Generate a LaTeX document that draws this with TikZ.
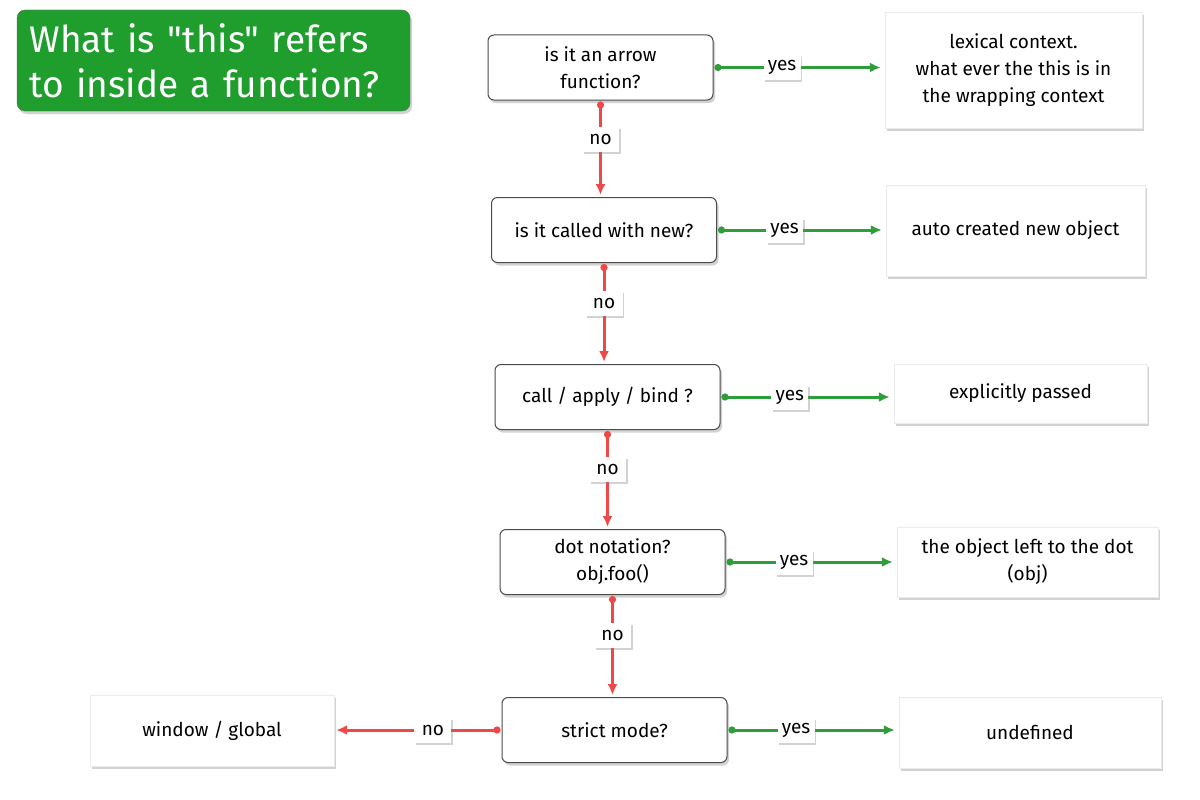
\documentclass[tikz,border=0pt]{standalone}
\usepackage{fontspec}
\setmainfont{Fira Sans}[Ligatures=TeXOff]
\usetikzlibrary{shadows,arrows.meta}
\definecolor{titlegreen}{HTML}{1F9E2E}
\definecolor{yesgreen}{HTML}{2E9E3A}
\definecolor{nored}{HTML}{F04848}
\tikzset{
  qbox/.style={draw=black!70, line width=1pt, rounded corners=6pt, fill=white, align=center,
    minimum width=225pt, minimum height=65pt, font=\fontsize{19}{27}\selectfont,
    drop shadow={shadow xshift=2pt, shadow yshift=-3pt, opacity=0.35}},
  abox/.style={draw=black!8, fill=white, align=center,
    font=\fontsize{19}{27}\selectfont,
    drop shadow={shadow xshift=2pt, shadow yshift=-3pt, opacity=0.35}},
  lab/.style={fill=white, minimum width=37pt, minimum height=25pt, inner sep=2pt,
    font=\fontsize{19}{20}\selectfont,
    drop shadow={shadow xshift=1.5pt, shadow yshift=-2pt, opacity=0.35}},
  yesline/.style={draw=yesgreen, line width=3pt, {Circle[length=7pt]}-{Latex[length=11pt,width=10pt]}, shorten <=1pt, shorten >=4pt},
  noline/.style={draw=nored, line width=3pt, {Circle[length=7pt]}-{Latex[length=11pt,width=10pt]}, shorten <=1pt, shorten >=2pt},
}
\begin{document}
\begin{tikzpicture}[x=1pt,y=-1pt]
\useasboundingbox (0,0) rectangle (1200,800);
\fill[white] (0,0) rectangle (1200,800);
% title
\node[draw=black!60, fill=titlegreen, rounded corners=8pt, minimum width=393pt, minimum height=101pt,
  text width=368pt, align=left, text=white, font=\fontsize{37}{45}\selectfont,
  drop shadow={shadow xshift=2pt, shadow yshift=-3pt, opacity=0.35}]
  (title) at (213.5,60.5) {What is "this" refers\\to inside a function?};
% questions
\node[qbox] (q1) at (600.5,67.5) {is it an arrow\\function?};
\node[qbox] (q2) at (604,230) {is it called with new?};
\node[qbox] (q3) at (607.5,397) {call / apply / bind ?};
\node[qbox] (q4) at (612.5,562) {dot notation?\\obj.foo()};
\node[qbox] (q5) at (614.5,730) {strict mode?};
% answers
\node[abox, minimum width=257pt, minimum height=116pt] (a1) at (1013.5,70) {lexical context.\\what ever the this is in\\the wrapping context};
\node[abox, minimum width=259pt, minimum height=91pt] (a2) at (1015.5,230.5) {auto created new object};
\node[abox, minimum width=253pt, minimum height=59pt] (a3) at (1020.5,393.5) {explicitly passed};
\node[abox, minimum width=261pt, minimum height=70pt] (a4) at (1027.5,562) {the object left to the dot\\(obj)};
\node[abox, minimum width=262pt, minimum height=71pt] (a5) at (1030,732.5) {undefined};
\node[abox, minimum width=244pt, minimum height=71pt] (w) at (212,730.5) {window / global};
% yes connectors
\draw[yesline] (q1.east) -- (a1.west |- q1.east) node[lab, pos=0.4] (y1) {yes};
\draw[yesline] (q2.east) -- (a2.west |- q2.east) node[lab, pos=0.4] (y2) {yes};
\draw[yesline] (q3.east) -- (a3.west |- q3.east) node[lab, pos=0.4] (y3) {yes};
\draw[yesline] (q4.east) -- (a4.west |- q4.east) node[lab, pos=0.4] (y4) {yes};
\draw[yesline] (q5.east) -- (a5.west |- q5.east) node[lab, pos=0.4] (y5) {yes};
% no connectors
\draw[noline] (q1.south) -- (q1.south |- q2.north) node[lab, pos=0.4] (n1) {no};
\draw[noline] (q2.south) -- (q2.south |- q3.north) node[lab, pos=0.4] (n2) {no};
\draw[noline] (q3.south) -- (q3.south |- q4.north) node[lab, pos=0.4] (n3) {no};
\draw[noline] (q4.south) -- (q4.south |- q5.north) node[lab, pos=0.4] (n4) {no};
\draw[noline] (q5.west) -- (w.east |- q5.west) node[lab, pos=0.41] (n5) {no};
\end{tikzpicture}
\end{document}
